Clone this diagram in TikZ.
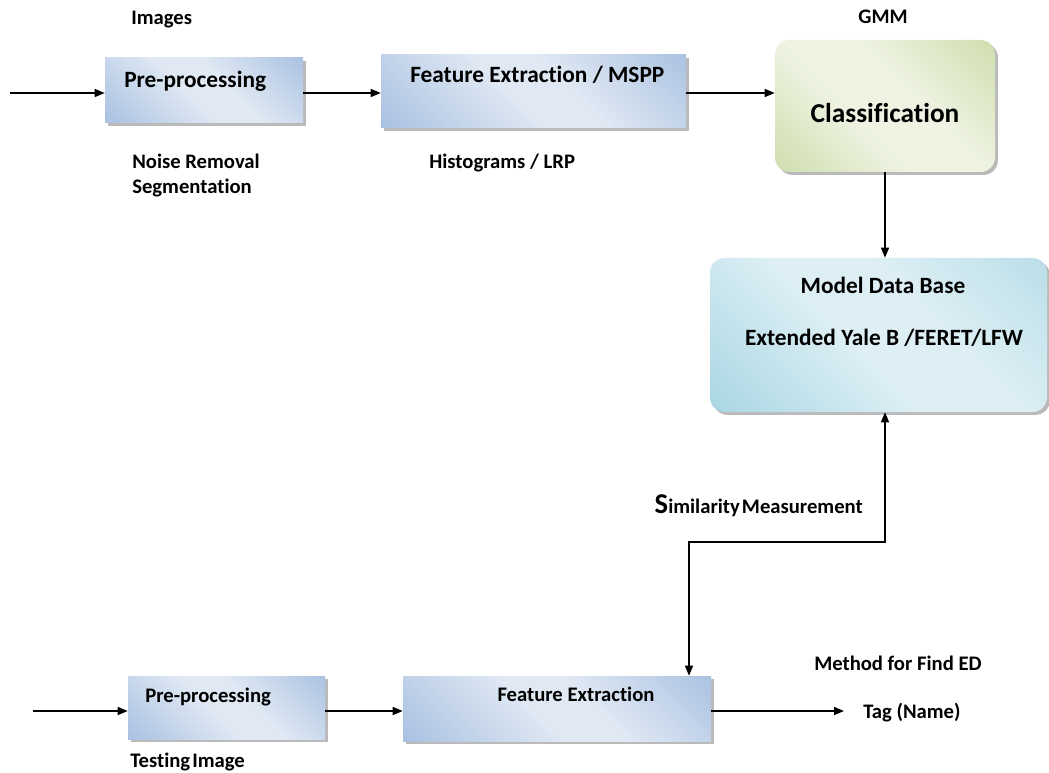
\documentclass[tikz,border=0pt]{standalone}
\usepackage{fontspec}
\setmainfont{Carlito}[RawFeature={-liga;-calt;-clig;-dlig;-rlig}]
\usetikzlibrary{arrows.meta,shadows,fit,calc}
\definecolor{bdark}{HTML}{8FAED9}
\definecolor{blight}{HTML}{DFE8F3}
\definecolor{gdark}{HTML}{BFD393}
\definecolor{glight}{HTML}{EEF3E2}
\definecolor{tdark}{HTML}{8FCADB}
\definecolor{tlight}{HTML}{DDEFF4}
\pgfdeclarehorizontalshading{bluediag}{100bp}{color(0bp)=(bdark); color(45bp)=(blight); color(58bp)=(blight); color(100bp)=(bdark)}
\pgfdeclarehorizontalshading{greendiag}{100bp}{color(0bp)=(gdark); color(42bp)=(glight); color(58bp)=(glight); color(100bp)=(gdark)}
\pgfdeclarehorizontalshading{tealdiag}{100bp}{color(0bp)=(tdark); color(45bp)=(tlight); color(60bp)=(tlight); color(100bp)=(tdark!70!tlight)}
\tikzset{
  boxbase/.style={inner sep=0pt, draw=none, drop shadow={shadow xshift=2.2pt, shadow yshift=-2.2pt, fill=black!45, opacity=0.6}},
  bluebox/.style={boxbase, shading=bluediag, shading angle=45},
  greenbox/.style={boxbase, shading=greendiag, shading angle=45, rounded corners=11pt},
  tealbox/.style={boxbase, shading=tealdiag, shading angle=45, rounded corners=11pt},
  lbl/.style={font=\bfseries\fontsize{15.5pt}{18pt}\selectfont, inner sep=0pt},
  boxtxt/.style={font=\bfseries\fontsize{17.5pt}{20pt}\selectfont, inner sep=0pt},
  arr/.style={line width=0.95pt, -{Triangle[length=7.5pt,width=6pt]}},
  both/.style={line width=0.95pt, {Triangle[length=7.5pt,width=6pt]}-{Triangle[length=7.5pt,width=6pt]}},
}
\begin{document}
\begin{tikzpicture}[x=0.75pt,y=-0.75pt]
\useasboundingbox (0,0) rectangle (1049,773);
% boxes
\node[bluebox, fit={(105,58) (303,123)}] (p1) {};
\node[bluebox, fit={(381,55) (686,128)}] (f1) {};
\node[greenbox, fit={(775,40) (995,172)}] (cls) {};
\node[tealbox, fit={(710,258) (1047,412)}] (db) {};
\node[bluebox, fit={(128,676) (325,739)}] (p2) {};
\node[bluebox, fit={(403,676) (711,741)}] (f2) {};
% texts
\node[lbl, anchor=mid west] (timg) at (131,21) {Images};
\node[lbl, anchor=mid] (tgmm) at (883,20) {GMM};
\node[boxtxt, anchor=mid west] (tp1) at (124,84) {Pre-processing};
\node[boxtxt, anchor=mid west] (tf1) at (410,79) {Feature Extraction / MSPP};
\node[font=\bfseries\fontsize{20.5pt}{24pt}\selectfont, inner sep=0pt, anchor=mid] (tcls) at (885,119) {Classification};
\node[lbl, anchor=mid west] (tnr) at (132,165) {Noise Removal};
\node[lbl, anchor=mid west] (tseg) at (132,190) {Segmentation};
\node[lbl, anchor=mid west] (thist) at (429,165) {Histograms / LRP};
\node[boxtxt, anchor=mid] (tmdb) at (883,290) {Model Data Base};
\node[boxtxt, anchor=mid] (text) at (884,342) {Extended Yale B /FERET/LFW};
\node[lbl, anchor=mid east] (tsim) at (863,510) {{\fontsize{21.5pt}{24pt}\selectfont S}imilarity\hspace{0.1em}Measurement};
\node[lbl, anchor=mid west] (tmeth) at (814,667) {Method for Find ED};
\node[lbl, anchor=mid west] (ttag) at (863,715) {Tag (Name)};
\node[lbl, anchor=mid west] (tp2) at (145,699) {Pre-processing};
\node[lbl, anchor=mid] (tf2) at (576,698) {Feature Extraction};
\node[lbl, anchor=mid west] (ttest) at (130,764) {Testing\hspace{0.1em}Image};
% connectors
\coordinate (in1) at (10,93);
\coordinate (in2) at (33,711);
\coordinate (out2) at (844,711);
\coordinate (sm) at (689,542);
\draw[arr] (in1) -- (in1 -| p1.west);
\draw[arr] (p1.east |- in1) -- (f1.west |- in1);
\draw[arr] (f1.east |- in1) -- (cls.west |- in1);
\draw[arr] (cls.south) -- (cls.south |- db.north);
\draw[both] (cls.south |- db.south) |- (sm) -- (sm |- f2.north);
\draw[arr] (in2) -- (in2 -| p2.west);
\draw[arr] (p2.east |- in2) -- (f2.west |- in2);
\draw[arr] (f2.east |- in2) -- (out2);
\end{tikzpicture}
\end{document}
